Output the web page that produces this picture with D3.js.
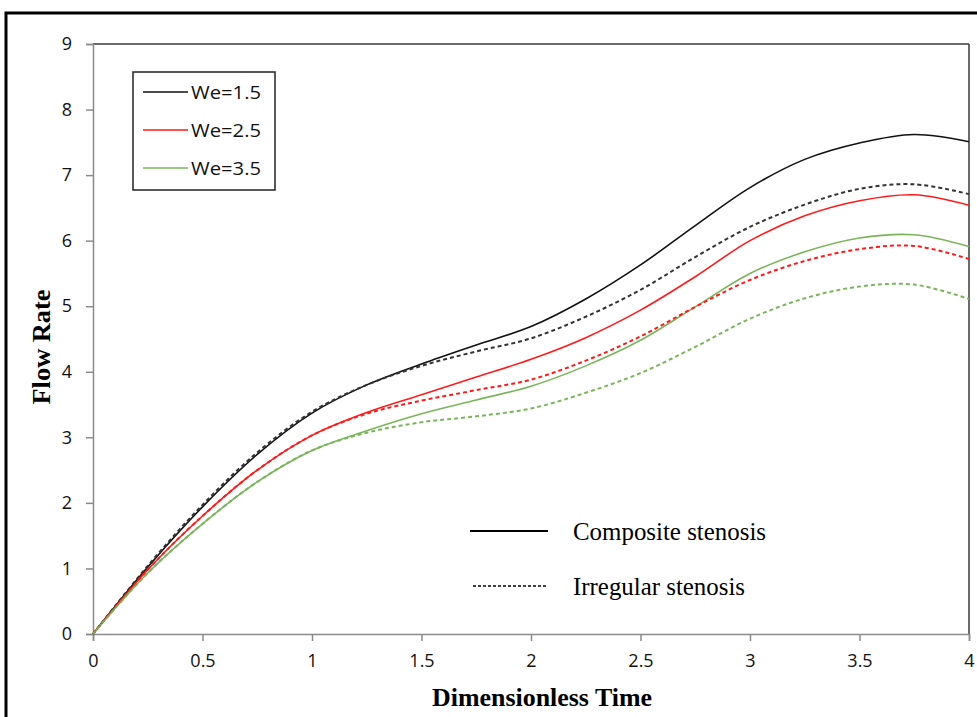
<!DOCTYPE html>
<html>
<head>
<meta charset="utf-8">
<script src="https://cdn.jsdelivr.net/npm/d3@7"></script>
<style>
  body { margin: 0; background: #fff; }
  svg { display: block; }
</style>
</head>
<body>
<svg id="chart" width="977" height="717"></svg>
<script>
// ── Data ────────────────────────────────────────────────────────────────────
const times = [0, 0.25, 0.5, 0.75, 1, 1.25, 1.5, 1.75, 2, 2.25, 2.5, 2.75, 3, 3.25, 3.5, 3.75, 4]

// composite stenosis (solid)
const compWe15 = [0, 1.02, 1.94, 2.74, 3.37, 3.80, 4.12, 4.41, 4.69, 5.11, 5.63, 6.23, 6.81, 7.24, 7.49, 7.62, 7.51]
const compWe25 = [0, 0.98, 1.80, 2.50, 3.03, 3.38, 3.65, 3.92, 4.19, 4.52, 4.94, 5.45, 6.00, 6.38, 6.61, 6.70, 6.54]
const compWe35 = [0, 0.93, 1.68, 2.32, 2.80, 3.10, 3.36, 3.57, 3.78, 4.09, 4.48, 4.99, 5.50, 5.83, 6.04, 6.09, 5.91]

// irregular stenosis (dashed)
const irrWe15 = [0, 1.04, 1.97, 2.77, 3.39, 3.80, 4.09, 4.31, 4.51, 4.84, 5.25, 5.75, 6.21, 6.55, 6.79, 6.86, 6.71]
const irrWe25 = [0, 0.98, 1.80, 2.50, 3.03, 3.36, 3.56, 3.72, 3.88, 4.17, 4.54, 4.99, 5.40, 5.69, 5.87, 5.92, 5.72]
const irrWe35 = [0, 0.93, 1.68, 2.32, 2.80, 3.07, 3.23, 3.32, 3.44, 3.68, 3.98, 4.38, 4.81, 5.12, 5.30, 5.33, 5.11]

const xTicks = [0, 0.5, 1, 1.5, 2, 2.5, 3, 3.5, 4]
const yTicks = [0, 1, 2, 3, 4, 5, 6, 7, 8, 9]

const weLabels = ['We=1.5', 'We=2.5', 'We=3.5']
const weColors = ['#111111', '#ff1a1a', '#7ab55c']
const styleLabels = ['Composite stenosis', 'Irregular stenosis']

// ── Layout ──────────────────────────────────────────────────────────────────
const svg = d3.select('#chart')
const W = 977, H = 717
const plot = { left: 93, right: 969, top: 44, bottom: 634 }

svg.append('rect').attr('width', W).attr('height', H).attr('fill', '#fff')

// outer frame (runs off the right and bottom edges)
svg.append('rect')
  .attr('x', 6).attr('y', 13).attr('width', W + 20).attr('height', H + 20)
  .attr('fill', 'none').attr('stroke', '#000').attr('stroke-width', 3)

const x = d3.scaleLinear().domain([0, 4]).range([plot.left, plot.right])
const y = d3.scaleLinear().domain([0, 9]).range([plot.bottom, plot.top])

// plot area border top / right
svg.append('line')
  .attr('x1', plot.left).attr('x2', plot.right).attr('y1', plot.top).attr('y2', plot.top)
  .attr('stroke', '#3a3a3a').attr('stroke-width', 1.5)
svg.append('line')
  .attr('x1', plot.right).attr('x2', plot.right).attr('y1', plot.top).attr('y2', plot.bottom)
  .attr('stroke', '#3a3a3a').attr('stroke-width', 1.5)

// axes
const tickFont = '"Open Sans", "Noto Sans", sans-serif'
const serif = '"Liberation Serif", "DejaVu Serif", serif'

const xAxis = svg.append('g')
  .attr('transform', `translate(0,${plot.bottom})`)
  .call(d3.axisBottom(x).tickValues(xTicks).tickSize(7).tickPadding(13).tickFormat(d3.format('')))
const yAxis = svg.append('g')
  .attr('transform', `translate(${plot.left},0)`)
  .call(d3.axisLeft(y).tickValues(yTicks).tickSize(7).tickPadding(14).tickFormat(d3.format('d')))

;[xAxis, yAxis].forEach(ax => {
  ax.select('.domain').attr('stroke', '#8a8a8a').attr('stroke-width', 1.5)
  ax.selectAll('.tick line').attr('stroke', '#8a8a8a').attr('stroke-width', 1.5)
  ax.selectAll('.tick text')
    .attr('fill', '#111').attr('font-size', 18).attr('font-family', tickFont)
})

// axis titles
svg.append('text')
  .attr('x', 542).attr('y', 706)
  .attr('text-anchor', 'middle')
  .attr('font-family', serif)
  .attr('font-weight', 'bold').attr('font-size', 25)
  .attr('textLength', 220).attr('lengthAdjust', 'spacingAndGlyphs')
  .attr('fill', '#000')
  .text('Dimensionless Time')

svg.append('text')
  .attr('transform', `translate(50,${(plot.top + plot.bottom) / 2 + 8}) rotate(-90)`)
  .attr('text-anchor', 'middle')
  .attr('font-family', serif)
  .attr('font-weight', 'bold').attr('font-size', 25)
  .attr('textLength', 115).attr('lengthAdjust', 'spacingAndGlyphs')
  .attr('fill', '#000')
  .text('Flow Rate')

// ── Curves ──────────────────────────────────────────────────────────────────
const line = d3.line()
  .x(d => x(d[0]))
  .y(d => y(d[1]))
  .curve(d3.curveCatmullRom.alpha(0.5))

const series = [
  { vals: compWe15, color: weColors[0], dashed: false },
  { vals: compWe25, color: weColors[1], dashed: false },
  { vals: compWe35, color: weColors[2], dashed: false },
  { vals: irrWe15, color: '#333333', dashed: true },
  { vals: irrWe25, color: weColors[1], dashed: true },
  { vals: irrWe35, color: weColors[2], dashed: true },
]

const curves = svg.append('g')
series.forEach(s => {
  curves.append('path')
    .datum(times.map((t, i) => [t, s.vals[i]]))
    .attr('d', line)
    .attr('fill', 'none')
    .attr('stroke', s.color)
    .attr('stroke-width', s.dashed ? 2 : 1.6)
    .attr('stroke-dasharray', s.dashed ? '4,3' : null)
})

// ── Legend: We ──────────────────────────────────────────────────────────────
const lg = svg.append('g')
lg.append('rect')
  .attr('x', 133).attr('y', 72).attr('width', 142).attr('height', 118)
  .attr('fill', '#fff').attr('stroke', '#222').attr('stroke-width', 1.5)

weLabels.forEach((lab, i) => {
  const cy = 92 + i * 38
  lg.append('line')
    .attr('x1', 143).attr('x2', 188).attr('y1', cy).attr('y2', cy)
    .attr('stroke', weColors[i]).attr('stroke-width', 1.6)
  lg.append('text')
    .attr('x', 191).attr('y', cy + 7)
    .attr('font-family', tickFont).attr('font-size', 19)
    .attr('textLength', 70).attr('lengthAdjust', 'spacingAndGlyphs')
    .attr('fill', '#111')
    .text(lab)
})

// ── Legend: stenosis type ───────────────────────────────────────────────────
const sg = svg.append('g')
const styleWidths = [193, 172]
styleLabels.forEach((lab, i) => {
  const cy = 531 + i * 55
  sg.append('line')
    .attr('x1', i ? 473 : 470).attr('x2', 548).attr('y1', cy).attr('y2', cy)
    .attr('stroke', '#000').attr('stroke-width', i ? 1.3 : 2)
    .attr('stroke-dasharray', i ? '3,2' : null)
  sg.append('text')
    .attr('x', 573).attr('y', cy + 9)
    .attr('font-family', serif)
    .attr('font-size', 25).attr('fill', '#000')
    .attr('textLength', styleWidths[i]).attr('lengthAdjust', 'spacingAndGlyphs')
    .text(lab)
})
</script>
</body>
</html>
